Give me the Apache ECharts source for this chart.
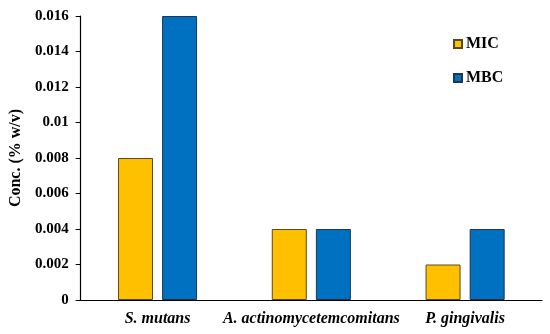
<!DOCTYPE html>
<html><head><meta charset="utf-8">
<script src="https://cdn.jsdelivr.net/npm/echarts@6/dist/echarts.min.js"></script>
<style>html,body{margin:0;padding:0;background:#fff}#c{width:550px;height:334px}</style>
</head><body><div id="c"></div>
<script>
const categories = ['S. mutans', 'A. actinomycetemcomitans', 'P. gingivalis'];
const micValues = [0.008, 0.004, 0.002];
const mbcValues = [0.016, 0.004, 0.004];
const yTicks = { min: 0, max: 0.016, interval: 0.002 };

const font = '"Liberation Serif", "Times New Roman", serif';
const chart = echarts.init(document.getElementById('c'), null, { renderer: 'canvas' });
chart.setOption({
  animation: false,
  backgroundColor: '#fff',
  grid: { left: 80, right: 8, top: 16, bottom: 34 },
  legend: {
    orient: 'vertical', left: 448, top: 31, itemGap: 18,
    icon: 'rect', itemWidth: 8, itemHeight: 8,
    textStyle: { fontFamily: font, fontWeight: 'bold', fontSize: 16, color: '#000', padding: [0,0,0,-1] },
    data: ['MIC', 'MBC']
  },
  xAxis: {
    type: 'category', data: categories,
    axisLine: { lineStyle: { color: '#000', width: 1.2 } },
    axisTick: { show: false },
    axisLabel: { interval: 0, fontFamily: font, fontWeight: 'bold', fontStyle: 'italic', fontSize: 16, color: '#000', margin: 11 }
  },
  yAxis: {
    type: 'value', min: yTicks.min, max: yTicks.max, interval: yTicks.interval,
    name: 'Conc. (% w/v)', nameLocation: 'middle', nameGap: 56, nameRotate: 90,
    nameTextStyle: { fontFamily: font, fontWeight: 'bold', fontSize: 16, color: '#000' },
    axisLine: { show: true, lineStyle: { color: '#000', width: 1.2 } },
    axisTick: { show: true, length: 5, inside: false, lineStyle: { color: '#000' } },
    splitLine: { show: false },
    axisLabel: { fontFamily: font, fontWeight: 'bold', fontSize: 15, color: '#000', margin: 12 }
  },
  series: [
    { name: 'MIC', type: 'bar', data: micValues, barWidth: 35, barGap: '26%',
      itemStyle: { color: '#FFC000', borderColor: '#5a4a1a', borderWidth: 1 } },
    { name: 'MBC', type: 'bar', data: mbcValues, barWidth: 35,
      itemStyle: { color: '#0070C0', borderColor: '#1f3550', borderWidth: 1 } }
  ]
});
</script></body></html>
